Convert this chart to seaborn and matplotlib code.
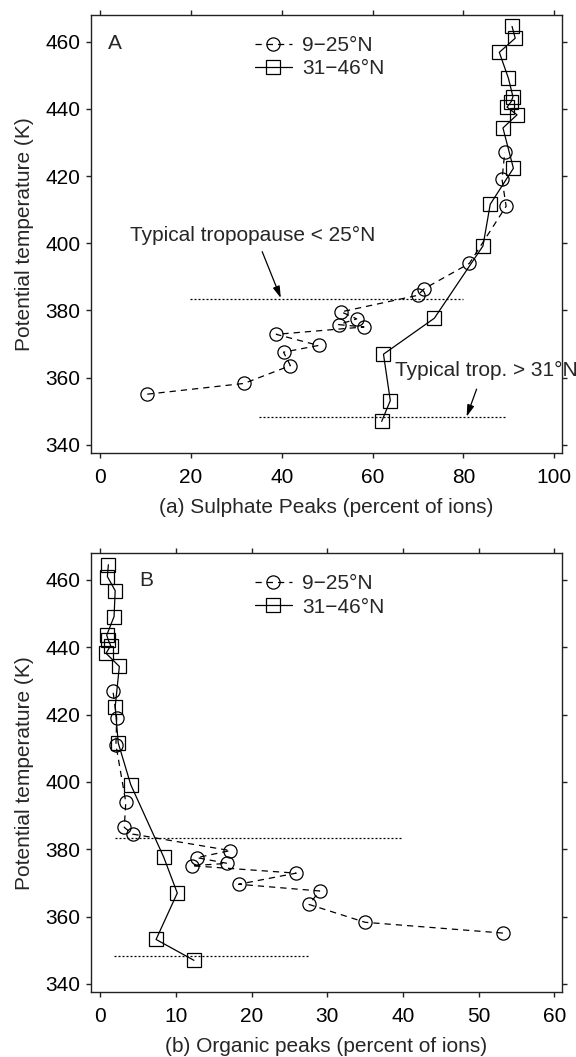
import matplotlib
matplotlib.use("Agg")
import matplotlib.pyplot as plt
import pandas as pd
import seaborn as sns

# Potential temperature (K) of the sampled layers, by latitude band
theta_south = [355.1, 358.3, 363.6, 367.6, 369.6, 372.9, 375.1, 375.8,
               377.5, 379.6, 384.5, 386.5, 394.0, 411.0, 419.0, 427.1]
theta_north = [347.0, 353.2, 367.0, 377.7, 399.2, 411.6, 422.3, 434.3,
               438.2, 440.5, 442.1, 443.6, 449.1, 456.8, 461.0, 464.5]

# Sulphate peaks (percent of ions)
sulphate_south = [10.4, 31.7, 41.9, 40.4, 48.1, 38.8, 58.1, 52.5,
                  56.5, 53.1, 69.9, 71.4, 81.3, 89.4, 88.5, 89.1]
sulphate_north = [62.0, 63.9, 62.4, 73.6, 84.3, 85.9, 91.0, 88.7,
                  91.8, 89.6, 90.5, 90.9, 89.9, 87.9, 91.4, 90.7]

# Organic peaks (percent of ions)
organic_south = [53.2, 35.0, 27.6, 29.0, 18.3, 25.9, 12.1, 16.8,
                 12.8, 17.2, 4.3, 3.2, 3.4, 2.1, 2.2, 1.7]
organic_north = [12.4, 7.4, 10.2, 8.4, 4.05, 2.4, 2.0, 2.55,
                 0.8, 1.4, 1.1, 0.88, 1.85, 2.0, 0.97, 1.1]

band_labels = ["9\u221225\u00b0N", "31\u221246\u00b0N"]
panel_letters = ["A", "B"]
x_labels = ["(a) Sulphate Peaks (percent of ions)",
            "(b) Organic peaks (percent of ions)"]
y_label = "Potential temperature (K)"
x_ticks = [[0, 20, 40, 60, 80, 100], [0, 10, 20, 30, 40, 50, 60]]
y_ticks = [340, 360, 380, 400, 420, 440, 460]

# Typical tropopause levels (K) and the x-extent of their guide lines
trop_theta = [383.3, 348.2]
trop_span = [[(19.8, 80.0), (35.1, 89.6)],
             [(2.0, 39.8), (1.8, 27.5)]]

sns.set_theme(style="ticks", rc={
    "axes.edgecolor": "#222222",
    "axes.linewidth": 1.0,
    "xtick.major.size": 3.5,
    "ytick.major.size": 3.5,
    "xtick.major.width": 1.0,
    "ytick.major.width": 1.0,
    "xtick.color": "#222222",
    "ytick.color": "#222222",
    "xtick.labelcolor": "black",
    "ytick.labelcolor": "black",
    "font.size": 15,
    "axes.labelsize": 15,
    "xtick.labelsize": 15,
    "ytick.labelsize": 15,
})
plt.rcParams["font.family"] = ["Liberation Sans", "DejaVu Sans"]

fig = plt.figure(figsize=(5.76, 10.57), dpi=100)
ax_a = fig.add_axes([0.1575, 0.5711, 0.8182, 0.4147])
ax_b = fig.add_axes([0.1575, 0.0612, 0.8182, 0.4153])

panels = [
    (ax_a, sulphate_south, sulphate_north, (-2.05, 101.7)),
    (ax_b, organic_south, organic_north, (-1.23, 61.0)),
]

line_kw = dict(color="black", linewidth=0.9, markersize=9.5,
               markerfacecolor="none", markeredgecolor="black",
               markeredgewidth=0.9, sort=False, estimator=None, legend=False)

for i, (ax, xs, xn, xlim) in enumerate(panels):
    south = pd.DataFrame({"x": xs, "theta": theta_south})
    north = pd.DataFrame({"x": xn, "theta": theta_north})
    sns.lineplot(data=south, x="x", y="theta", ax=ax, marker="o",
                 linestyle=(0, (5, 4)), **line_kw)
    sns.lineplot(data=north, x="x", y="theta", ax=ax, marker="s",
                 linestyle="-", **line_kw)
    handles = list(ax.lines[:2])

    for level, (x0, x1) in zip(trop_theta, trop_span[i]):
        ax.plot([x0, x1], [level, level], color="black", linewidth=0.9,
                linestyle=(0, (1.6, 1.6)))

    ax.set_xlim(*xlim)
    ax.set_ylim(337.5, 467.9)
    ax.set_xticks(x_ticks[i])
    ax.set_yticks(y_ticks)
    ax.tick_params(axis="both", direction="out", top=True, right=True,
                   labeltop=False, labelright=False)
    ax.tick_params(axis="x", pad=7)
    ax.tick_params(axis="y", pad=4)
    ax.set_xlabel(x_labels[i], labelpad=8)
    ax.set_ylabel(y_label, labelpad=8)

    ax.legend(handles, band_labels, loc="upper left",
              bbox_to_anchor=(0.3486, 0.952), frameon=False, borderpad=0,
              borderaxespad=0, handlelength=1.76, handletextpad=0.5,
              labelspacing=0.2, fontsize=15, numpoints=1)

ax_a.text(0.0516, 0.935, panel_letters[0], transform=ax_a.transAxes,
          ha="center", va="center", fontsize=15)
ax_b.text(0.117, 0.939, panel_letters[1], transform=ax_b.transAxes,
          ha="center", va="center", fontsize=15)

arrow_kw = dict(arrowstyle="-|>,head_length=0.5,head_width=0.15",
                color="black", lw=0.9, shrinkA=0, shrinkB=0,
                mutation_scale=14)

ax_a.text(33.5, 402.2, "Typical tropopause < 25\u00b0N", ha="center",
          va="center", fontsize=15)
ax_a.annotate("", xy=(39.8, 383.7), xytext=(35.7, 397.5),
              arrowprops=arrow_kw)

ax_a.text(64.9, 362.1, "Typical trop. > 31\u00b0N", ha="left",
          va="center", fontsize=15, clip_on=False)
ax_a.annotate("", xy=(80.7, 348.4), xytext=(82.9, 356.6),
              arrowprops=arrow_kw)

fig.savefig("out.png", dpi=100)
